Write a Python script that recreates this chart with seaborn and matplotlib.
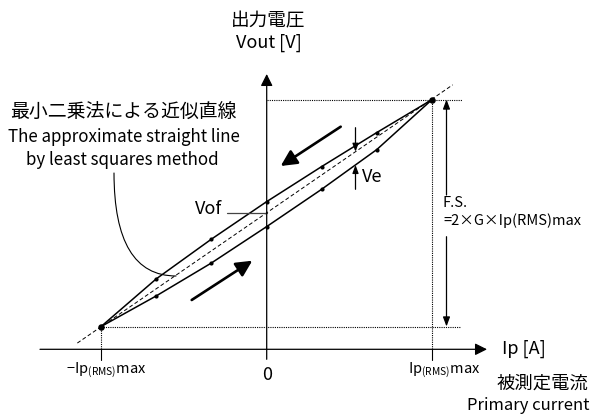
import numpy as np
import pandas as pd
import matplotlib
matplotlib.use("Agg")
import matplotlib.pyplot as plt
import seaborn as sns

# ---- data (Ip in units of Ip(RMS)max, Vout in arbitrary units, F.S. = 2) ----
ip_points = [-1.0, -2/3, -1/3, 0.0, 1/3, 2/3, 1.0]
vout_decreasing = [0.20, 0.62, 0.97, 1.30, 1.61, 1.91, 2.20]   # upper branch (returning)
vout_increasing = [0.20, 0.47, 0.76, 1.08, 1.41, 1.76, 2.20]   # lower branch (rising)
fit_ip = [-1.143, 1.125]
fit_vout = [0.055, 2.33]
ip_ticks = [-1.0, 0.0, 1.0]
ip_tick_labels = [r'−Ip$_{\mathregular{(RMS)}}$max', '0', r'Ip$_{\mathregular{(RMS)}}$max']
fs_low, fs_high = 0.20, 2.20

sns.set_theme(style="white")
plt.rcParams['font.family'] = ['Noto Sans CJK JP', 'DejaVu Sans']
plt.rcParams['mathtext.fontset'] = 'custom'
plt.rcParams['mathtext.rm'] = 'Noto Sans CJK JP'

W, H = 592, 417
fig = plt.figure(figsize=(W/100, H/100), dpi=100)
ax = fig.add_axes([0, 0, 1, 1])
X0, SX, Y0, SY = 266.5, 165.5, 349.3, 113.5
ax.set_xlim(-X0/SX, (W-X0)/SX)
ax.set_ylim((Y0-H)/SY, Y0/SY)
ax.axis('off')

def P(px, py):
    return ((px - X0)/SX, (Y0 - py)/SY)

K = 'black'

def arrow(p_from, p_to, lw=0.9, hl=0.4, hw=0.2, ms=18, color=K):
    ax.annotate('', xy=P(*p_to), xytext=P(*p_from),
                arrowprops=dict(arrowstyle=f'-|>,head_length={hl},head_width={hw}',
                                mutation_scale=ms, lw=lw, color=color,
                                shrinkA=0, shrinkB=0), zorder=5)

# axes with arrows
arrow((40, Y0), (487, Y0), lw=0.9, ms=18)
arrow((266.7, 359.3), (266.7, 74), lw=0.9, ms=18)

# ticks below x axis at +-Ip
for t in [ip_ticks[0], ip_ticks[2]]:
    ax.plot([t, t], [0, P(0, 360)[1]], color=K, lw=0.8)

# dotted guide lines
dot = (0, (1, 1))
ax.plot([0, P(462, 0)[0]], [fs_high, fs_high], color=K, lw=0.8, ls=dot)
ax.plot([ip_ticks[0], P(461, 0)[0]], [fs_low, fs_low], color=K, lw=0.8, ls=dot)
ax.plot([ip_ticks[2], ip_ticks[2]], [0, fs_high], color=K, lw=0.8, ls=dot)
ax.plot([ip_ticks[0], ip_ticks[0]], [0, fs_low], color=K, lw=0.8, ls=dot)

# least squares line
sns.lineplot(x=fit_ip, y=fit_vout, ax=ax, color=K, lw=0.7, linestyle=(0, (4, 2.5)), legend=False)

# hysteresis branches
df = pd.DataFrame({'Ip': ip_points * 2,
                   'Vout': vout_decreasing + vout_increasing,
                   'branch': ['dec'] * 7 + ['inc'] * 7})
sns.lineplot(data=df, x='Ip', y='Vout', units='branch', estimator=None, ax=ax,
             color=K, lw=1.1, marker='o', markersize=3, markeredgewidth=0, legend=False)
ends = pd.DataFrame({'Ip': [ip_points[0], ip_points[-1]],
                     'Vout': [vout_increasing[0], vout_increasing[-1]]})
sns.scatterplot(data=ends, x='Ip', y='Vout', ax=ax, color=K, s=22, linewidth=0, legend=False, zorder=6)

# direction arrows
arrow((340.7, 126.7), (280.7, 166), lw=1.9, hl=0.6, hw=0.3, ms=16)
arrow((191.7, 300), (252.3, 260.7), lw=1.9, hl=0.6, hw=0.3, ms=16)

# Ve arrows
arrow((355.5, 127.7), (355.5, 151.7), lw=0.9, hl=0.4, hw=0.15, ms=12)
arrow((355.5, 189.3), (355.5, 165), lw=0.9, hl=0.4, hw=0.15, ms=12)

# F.S. arrows
arrow((446.5, 195), (446.5, 99.5), lw=0.9, hl=0.4, hw=0.15, ms=14)
arrow((446.5, 236.7), (446.5, 326.5), lw=0.9, hl=0.4, hw=0.15, ms=14)

# Vof leader
ax.plot([P(227.3, 0)[0], 0], [P(0, 213.3)[1]] * 2, color='#444444', lw=0.9)

# least squares leader (curved)
ax.annotate('', xy=P(176, 276), xytext=P(114, 173),
            arrowprops=dict(arrowstyle='-', connectionstyle='angle3,angleA=90,angleB=0',
                            lw=0.8, color=K, shrinkA=0, shrinkB=0))

def T(px, py, s, size=13, ha='center', va='center', **kw):
    ax.text(*P(px, py), s, fontsize=size, ha=ha, va=va, color=K, **kw)

T(268, 21, '出力電圧', 13.4)
T(269, 43, 'Vout [V]', 13)
T(123.5, 112, '最小二乗法による近似直線', 13.6)
T(124, 137, 'The approximate straight line', 12.2)
T(122, 160, 'by least squares method', 12.2)
T(222, 209.3, 'Vof', 13, ha='right')
T(361.5, 177, 'Ve', 13, ha='left')
T(443, 203, 'F.S.', 10.5, ha='left')
T(443, 221, '=2×G×Ip(RMS)max', 10.5, ha='left')
T(502, 349, 'Ip [A]', 13, ha='left')
T(588.5, 384, '被測定電流', 13.2, ha='right')
T(589.5, 406, 'Primary current', 12, ha='right')

label_px = [106.5, 266.7, 444]
label_py = [370, 375, 370]
label_size = [10.5, 13, 10.5]
for lx, ly, s, fz in zip(label_px, label_py, ip_tick_labels, label_size):
    T(lx, ly, s, fz)

fig.savefig('out.png', dpi=100)
